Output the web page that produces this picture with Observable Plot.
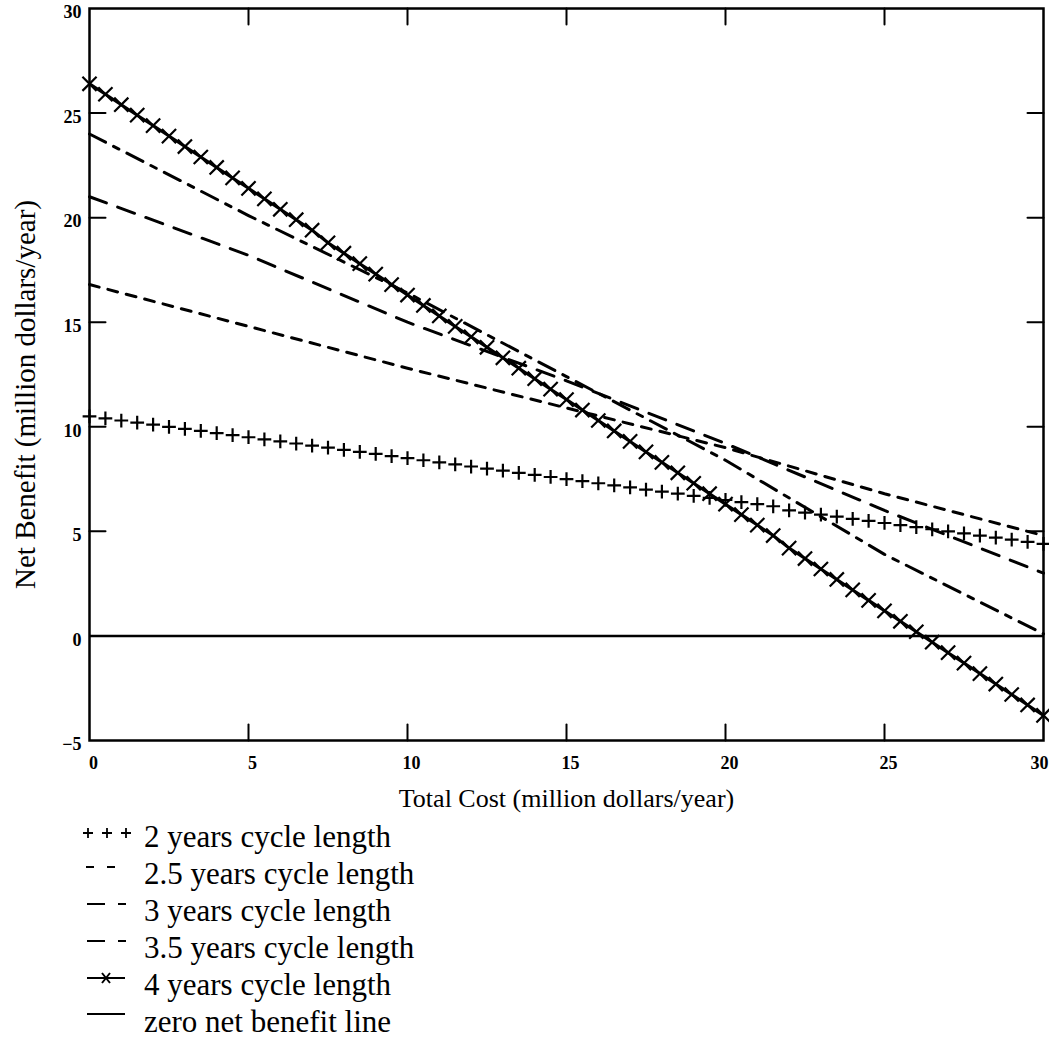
<!DOCTYPE html>
<html>
<head>
<meta charset="utf-8">
<script src="https://cdn.jsdelivr.net/npm/d3@7"></script>
<script src="https://cdn.jsdelivr.net/npm/@observablehq/plot@0.6"></script>
<style>
  body { margin: 0; background: #fff; font-family: "Liberation Serif", "Times New Roman", serif; color: #000; overflow: hidden; }
  #legend { margin-top: 6px; font-size: 31px; line-height: 37px; }
  .row { height: 37px; display: flex; align-items: flex-start; white-space: nowrap; }
  .row svg { margin-left: 83px; width: 61px; height: 37px; flex: none; }
</style>
</head>
<body>
<div id="chart"></div>
<div id="legend"></div>
<script>
// ---- data ----
const costCoarse = [0, 5, 10, 15, 20, 25, 30];
const nb2_5 = [16.8, 14.8, 12.8, 10.9, 9.0, 6.8, 4.8];
const nb3 = [21.0, 18.2, 15.0, 12.2, 9.2, 6.0, 3.0];
const nb3_5 = [24.0, 20.1, 16.4, 12.4, 8.4, 3.9, 0.1];

const costFine = [0, 0.5, 1, 1.5, 2, 2.5, 3, 3.5, 4, 4.5, 5, 5.5, 6, 6.5, 7, 7.5, 8, 8.5, 9, 9.5,
  10, 10.5, 11, 11.5, 12, 12.5, 13, 13.5, 14, 14.5, 15, 15.5, 16, 16.5, 17, 17.5, 18, 18.5, 19, 19.5,
  20, 20.5, 21, 21.5, 22, 22.5, 23, 23.5, 24, 24.5, 25, 25.5, 26, 26.5, 27, 27.5, 28, 28.5, 29, 29.5, 30];
const nb2 = [10.5, 10.4, 10.3, 10.2, 10.1, 10.0, 9.9, 9.8, 9.7, 9.6, 9.5, 9.4, 9.3, 9.2, 9.1, 9.0, 8.9, 8.8, 8.7, 8.6,
  8.5, 8.4, 8.3, 8.2, 8.1, 8.0, 7.9, 7.8, 7.7, 7.6, 7.5, 7.4, 7.3, 7.2, 7.1, 7.0, 6.9, 6.8, 6.7, 6.6,
  6.5, 6.4, 6.3, 6.2, 6.0, 5.9, 5.8, 5.7, 5.6, 5.5, 5.4, 5.3, 5.2, 5.1, 5.0, 4.9, 4.8, 4.7, 4.6, 4.5, 4.4];
const nb4 = [26.4, 25.9, 25.4, 24.9, 24.4, 23.9, 23.4, 22.9, 22.4, 21.9, 21.4, 20.9, 20.4, 19.9, 19.4, 18.8, 18.3, 17.8, 17.3, 16.8,
  16.3, 15.8, 15.3, 14.8, 14.3, 13.8, 13.3, 12.8, 12.3, 11.8, 11.3, 10.8, 10.3, 9.8, 9.3, 8.8, 8.3, 7.8, 7.3, 6.8,
  6.3, 5.8, 5.3, 4.8, 4.2, 3.7, 3.2, 2.7, 2.2, 1.7, 1.2, 0.7, 0.2, -0.3, -0.8, -1.3, -1.8, -2.3, -2.8, -3.3, -3.8];
const zeroLine = [0];

const xTicks = [0, 5, 10, 15, 20, 25];
const xTicksEnd = [30];
const xTickLabels = {0: "0", 5: "5", 10: "10", 15: "15", 20: "20", 25: "25", 30: "30"};
const yTicks = [-5, 0, 5, 10, 15, 20, 25, 30];
const yTickLabels = ["\u22125", "0", "5", "10", "15", "20", "25", "30"];
const innerXTicks = [5, 10, 15, 20, 25];
const innerYTicks = [5, 10, 15, 20, 25];

const xTitle = "Total Cost (million dollars/year)";
const yTitle = "Net Benefit (million dollars/year)";
const legendLabels = [
  "2 years cycle length",
  "2.5 years cycle length",
  "3 years cycle length",
  "3.5 years cycle length",
  "4 years cycle length",
  "zero net benefit line"
];

// ---- build tables ----
const coarse = ys => costCoarse.map((c, i) => ({x: c, y: ys[i]}));
const fine = ys => costFine.map((c, i) => ({x: c, y: ys[i]}));

const tickShape = {draw(context, l) { context.moveTo(0, 0); context.lineTo(0, -l); }};
const inTick = (data, opts) => Plot.vector(data, {length: 16, anchor: "start", shape: tickShape, stroke: "black", strokeWidth: 2, ...opts});
const xLabelOpts = {tickSize: 0, tickPadding: 16, fontSize: 18, fontWeight: "bold", label: null, tickFormat: d => xTickLabels[d]};

const chart = Plot.plot({
  width: 1049,
  height: 812,
  marginLeft: 89,
  marginRight: 6,
  marginTop: 8,
  marginBottom: 72,
  x: {domain: [0, 30]},
  y: {domain: [-5, 30]},
  style: {fontFamily: "Liberation Serif, Times New Roman, serif", color: "black", background: "white", overflow: "visible"},
  marks: [
    // axes labels
    Plot.axisX(xTicks, {...xLabelOpts, dx: 4}),
    Plot.axisX(xTicksEnd, {...xLabelOpts, dx: -4}),
    Plot.axisY(yTicks, {tickSize: 0, tickPadding: 8, dy: 4, fontSize: 18, fontWeight: "bold", label: null,
      tickFormat: d => yTickLabels[yTicks.indexOf(d)]}),
    // inward ticks
    inTick(innerXTicks, {x: d => d, frameAnchor: "bottom", rotate: 0}),
    inTick(innerXTicks, {x: d => d, frameAnchor: "top", rotate: 180}),
    inTick(innerYTicks, {y: d => d, frameAnchor: "left", rotate: 90}),
    inTick(innerYTicks, {y: d => d, frameAnchor: "right", rotate: -90}),
    // zero net benefit line
    Plot.ruleY(zeroLine, {stroke: "black", strokeWidth: 2.5}),
    // series
    Plot.line(coarse(nb2_5), {x: "x", y: "y", stroke: "black", strokeWidth: 3, strokeDasharray: "10,9"}),
    Plot.line(coarse(nb3), {x: "x", y: "y", stroke: "black", strokeWidth: 3, strokeDasharray: "18,12"}),
    Plot.line(coarse(nb3_5), {x: "x", y: "y", stroke: "black", strokeWidth: 3, strokeDasharray: "18,9,6,9"}),
    Plot.dot(fine(nb2), {x: "x", y: "y", symbol: "plus", r: 4.5, stroke: "black", strokeWidth: 2.2}),
    Plot.line(fine(nb4), {x: "x", y: "y", stroke: "black", strokeWidth: 3}),
    Plot.dot(fine(nb4), {x: "x", y: "y", symbol: "times", r: 6.5, stroke: "black", strokeWidth: 2.2}),
    // frame
    Plot.frame({stroke: "black", strokeWidth: 2.5}),
    // titles
    Plot.text([xTitle], {text: d => d, frameAnchor: "bottom", textAnchor: "middle", lineAnchor: "middle", dx: 0, dy: 58, fontSize: 26}),
    Plot.text([yTitle], {text: d => d, frameAnchor: "left", textAnchor: "middle", lineAnchor: "middle", rotate: -90, dx: -64, dy: 20, fontSize: 29})
  ]
});
document.getElementById("chart").appendChild(chart);

// ---- legend ----
const ns = "http://www.w3.org/2000/svg";
const symbolDrawers = [
  g => { [5, 24, 43].forEach(cx => { g.push(`<path d="M${cx - 5},15H${cx + 5}M${cx},10V20" stroke="black" stroke-width="1.8"/>`); }); },
  g => { g.push(`<path d="M3,12H11M24,12H32" stroke="black" stroke-width="2"/>`); },
  g => { g.push(`<path d="M4,12H22M35,12H43" stroke="black" stroke-width="2"/>`); },
  g => { g.push(`<path d="M4,12H22M35,12H43" stroke="black" stroke-width="2"/>`); },
  g => { g.push(`<path d="M4,12H42M19,7L27,17M19,17L27,7" stroke="black" stroke-width="2"/>`); },
  g => { g.push(`<path d="M4,11H42" stroke="black" stroke-width="2"/>`); }
];
const legend = document.getElementById("legend");
legendLabels.forEach((label, i) => {
  const row = document.createElement("div");
  row.className = "row";
  const parts = [];
  symbolDrawers[i](parts);
  row.innerHTML = `<svg xmlns="${ns}" viewBox="0 0 61 37">${parts.join("")}</svg><span>${label}</span>`;
  legend.appendChild(row);
});
</script>
</body>
</html>
